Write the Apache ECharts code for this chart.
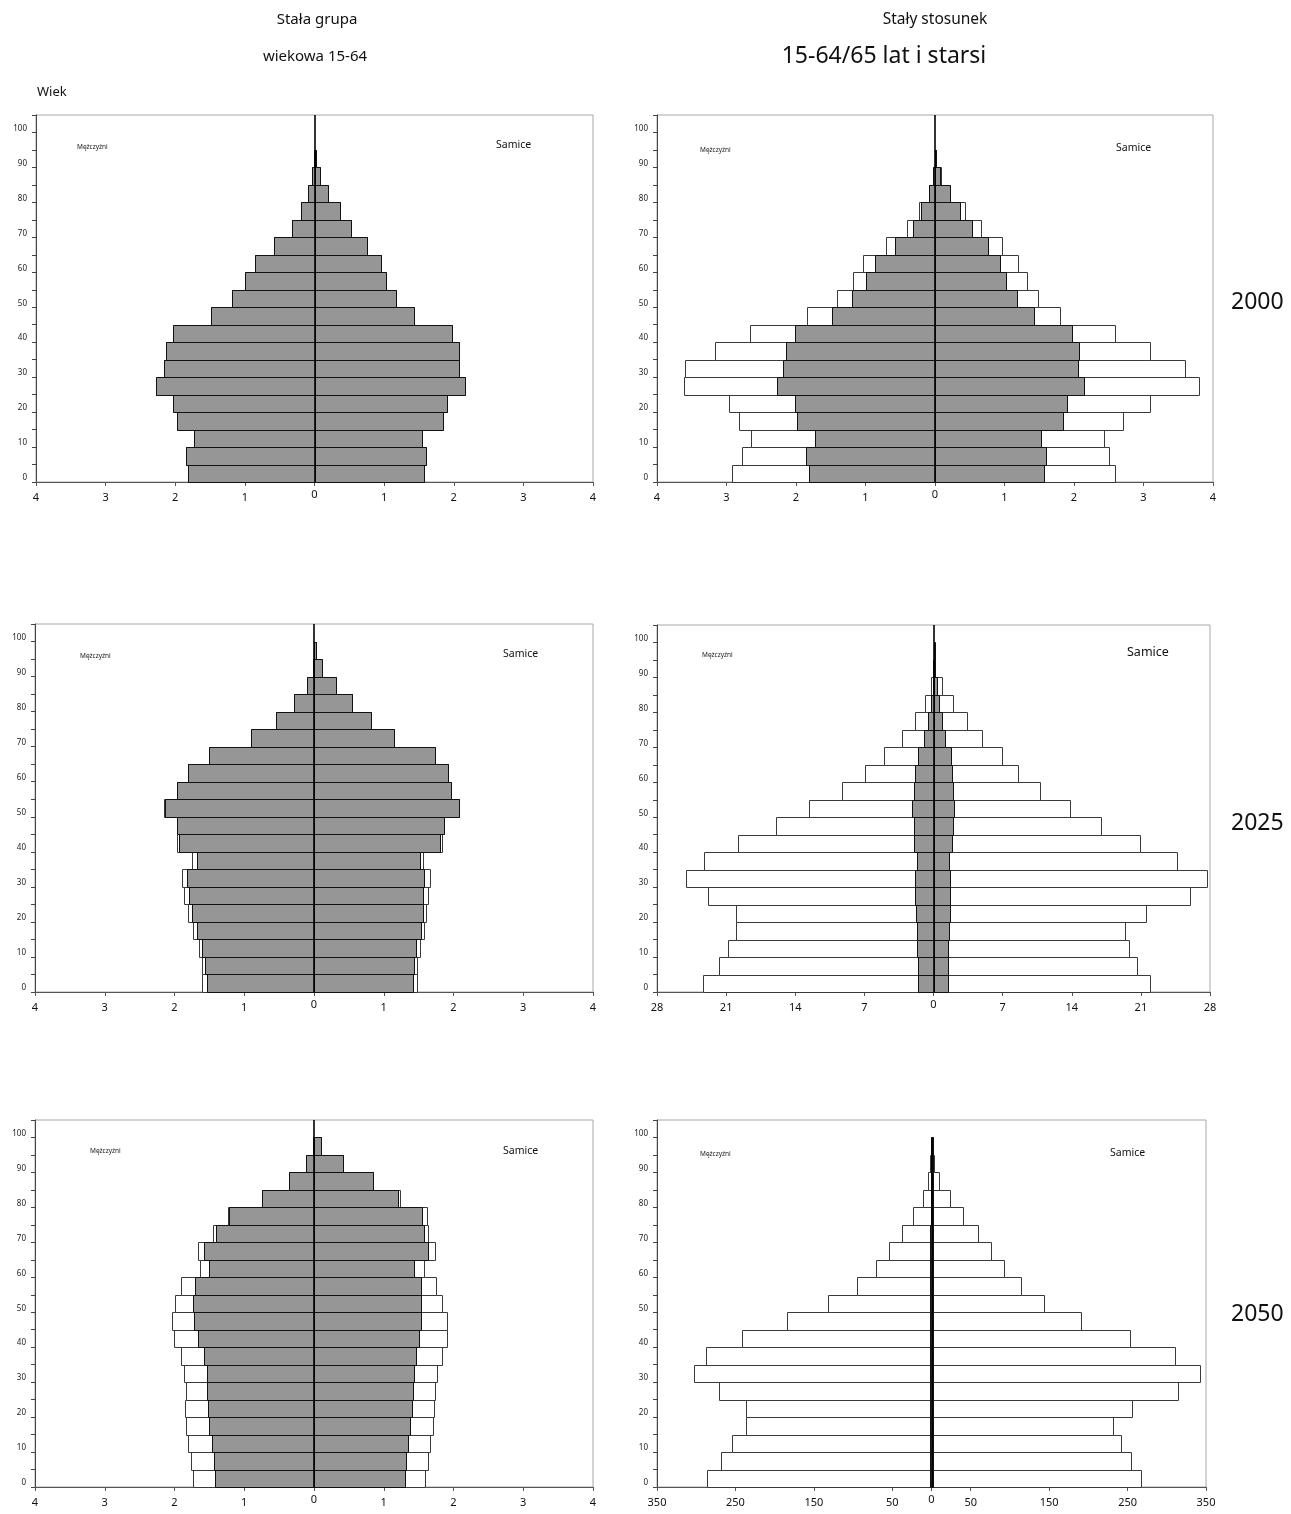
<!DOCTYPE html>
<html>
<head>
<meta charset="utf-8">
<script src="https://cdn.jsdelivr.net/npm/echarts@6/dist/echarts.min.js"></script>
<style>
html,body{margin:0;padding:0;background:#fff;}
#chart{width:1291px;height:1514px;}
</style>
</head>
<body>
<div id="chart"></div>
<script>
// ---------- data ----------
var AGE_STARTS = [0,5,10,15,20,25,30,35,40,45,50,55,60,65,70,75,80,85,90,95];
var BAND = 5;
var Y_LABEL_STEP = 10;

// 2000 – constant age group 15-64
var M_GREY_2000_GROUP  = [1.82,1.85,1.73,1.98,2.03,2.27,2.16,2.14,2.03,1.48,1.19,1.00,0.86,0.58,0.33,0.20,0.09,0.03,0.005,0];
var F_GREY_2000_GROUP  = [1.57,1.60,1.54,1.84,1.90,2.16,2.07,2.07,1.98,1.43,1.17,1.02,0.95,0.76,0.53,0.36,0.20,0.08,0.02,0];
var M_WHITE_2000_GROUP = [1.82,1.85,1.73,1.98,2.03,2.27,2.16,2.14,2.03,1.48,1.19,1.00,0.86,0.58,0.33,0.20,0.09,0.03,0.005,0];
var F_WHITE_2000_GROUP = [1.57,1.60,1.54,1.84,1.90,2.16,2.07,2.07,1.98,1.43,1.17,1.02,0.95,0.76,0.53,0.36,0.20,0.08,0.02,0];

// 2000 – constant ratio 15-64/65+
var M_GREY_2000_RATIO  = [1.82,1.85,1.73,1.98,2.02,2.27,2.18,2.14,2.02,1.48,1.19,1.00,0.86,0.58,0.32,0.20,0.09,0.03,0.005,0];
var F_GREY_2000_RATIO  = [1.57,1.60,1.53,1.84,1.90,2.15,2.06,2.07,1.97,1.42,1.18,1.02,0.94,0.76,0.53,0.36,0.21,0.07,0.02,0];
var M_WHITE_2000_RATIO = [2.92,2.78,2.65,2.82,2.97,3.61,3.60,3.17,2.66,1.84,1.41,1.18,1.03,0.70,0.40,0.23,0.09,0.03,0.005,0];
var F_WHITE_2000_RATIO = [2.59,2.51,2.43,2.70,3.09,3.80,3.60,3.09,2.59,1.80,1.48,1.32,1.19,0.97,0.66,0.43,0.21,0.08,0.02,0];

// 2025 – constant age group
var M_GREY_2025_GROUP  = [1.54,1.56,1.60,1.68,1.75,1.79,1.82,1.68,1.93,1.96,2.13,1.96,1.80,1.51,0.91,0.55,0.28,0.10,0.02,0];
var F_GREY_2025_GROUP  = [1.42,1.43,1.46,1.53,1.56,1.56,1.58,1.52,1.80,1.86,2.08,1.97,1.92,1.74,1.15,0.82,0.54,0.31,0.12,0.03];
var M_WHITE_2025_GROUP = [1.60,1.60,1.65,1.74,1.80,1.87,1.89,1.75,1.96,1.96,2.15,1.96,1.80,1.51,0.91,0.55,0.28,0.10,0.02,0];
var F_WHITE_2025_GROUP = [1.48,1.48,1.52,1.57,1.60,1.64,1.66,1.56,1.83,1.86,2.08,1.97,1.92,1.74,1.15,0.82,0.54,0.31,0.12,0.03];

// 2025 – constant ratio
var M_GREY_2025_RATIO  = [1.56,1.56,1.64,1.72,1.80,1.88,1.88,1.68,1.96,1.96,2.20,1.96,1.84,1.56,0.92,0.56,0.28,0.08,0.02,0];
var F_GREY_2025_RATIO  = [1.44,1.44,1.44,1.52,1.68,1.68,1.68,1.52,1.88,1.96,2.12,1.96,1.92,1.76,1.16,0.84,0.56,0.32,0.12,0.03];
var M_WHITE_2025_RATIO = [23.3,21.7,20.8,20.0,20.0,22.8,25.1,23.2,19.8,16.0,12.6,9.3,6.9,5.0,3.2,1.9,0.84,0.28,0.08,0];
var F_WHITE_2025_RATIO = [21.9,20.6,19.8,19.4,21.5,26.0,27.7,24.7,20.9,17.0,13.8,10.8,8.6,6.9,4.9,3.4,1.96,0.88,0.20,0];

// 2050 – constant age group
var M_GREY_2050_GROUP  = [1.42,1.43,1.46,1.50,1.52,1.53,1.54,1.58,1.67,1.72,1.73,1.70,1.51,1.58,1.41,1.22,0.75,0.36,0.12,0.02];
var F_GREY_2050_GROUP  = [1.30,1.32,1.35,1.38,1.40,1.42,1.43,1.46,1.51,1.54,1.53,1.53,1.43,1.64,1.57,1.55,1.20,0.84,0.42,0.10];
var M_WHITE_2050_GROUP = [1.73,1.76,1.81,1.84,1.85,1.84,1.86,1.91,2.01,2.04,1.99,1.91,1.64,1.66,1.45,1.24,0.75,0.36,0.12,0.02];
var F_WHITE_2050_GROUP = [1.59,1.63,1.66,1.71,1.72,1.74,1.76,1.83,1.90,1.90,1.83,1.75,1.57,1.74,1.64,1.62,1.23,0.85,0.42,0.10];

// 2050 – constant ratio
var M_GREY_2050_RATIO  = [1.42,1.43,1.46,1.50,1.52,1.53,1.54,1.58,1.67,1.72,1.73,1.70,1.51,1.58,1.41,1.22,0.75,0.36,0.12,0.02];
var F_GREY_2050_RATIO  = [1.30,1.32,1.35,1.38,1.40,1.42,1.43,1.46,1.51,1.54,1.53,1.53,1.43,1.64,1.57,1.55,1.20,0.84,0.42,0.10];
var M_WHITE_2050_RATIO = [286,268,255,237,236,271,303,287,241,184,132,95,71,54,37,23,11,4,1.5,0.5];
var F_WHITE_2050_RATIO = [267,255,242,232,256,314,342,311,253,191,144,114,92,76,59,40,23,9,3,1];

// axis ranges / ticks
var X_RANGE_SMALL = 4,   X_STEP_SMALL = 1;
var X_RANGE_2025  = 28,  X_STEP_2025  = 7;
var X_RANGE_2050  = 350;
var X_TICKS_2050  = [-350,-250,-150,-50,0,50,150,250,350];
var Y_MAX = 105;

// texts
var TITLE_LEFT_1  = 'Stała grupa';
var TITLE_LEFT_2  = 'wiekowa 15-64';
var TITLE_RIGHT_1 = 'Stały stosunek';
var TITLE_RIGHT_2 = '15-64/65 lat i starsi';
var Y_NAME = 'Wiek';
var MALE_LABEL = 'Mężczyźni';
var FEMALE_LABEL = 'Samice';
var YEARS = ['2000','2025','2050'];

// ---------- layout ----------
var FONT = '"Noto Sans", "Open Sans", sans-serif';
var panels = [
  {grid:{left:36, top:115, width:557, height:367}, xr:X_RANGE_SMALL, xs:X_STEP_SMALL,
   mg:M_GREY_2000_GROUP, fg:F_GREY_2000_GROUP, mw:M_WHITE_2000_GROUP, fw:F_WHITE_2000_GROUP, zeroTop:Y_MAX},
  {grid:{left:657, top:115, width:556, height:367}, xr:X_RANGE_SMALL, xs:X_STEP_SMALL,
   mg:M_GREY_2000_RATIO, fg:F_GREY_2000_RATIO, mw:M_WHITE_2000_RATIO, fw:F_WHITE_2000_RATIO, zeroTop:Y_MAX},
  {grid:{left:35, top:624, width:558, height:368}, xr:X_RANGE_SMALL, xs:X_STEP_SMALL,
   mg:M_GREY_2025_GROUP, fg:F_GREY_2025_GROUP, mw:M_WHITE_2025_GROUP, fw:F_WHITE_2025_GROUP, zeroTop:Y_MAX},
  {grid:{left:657, top:625, width:553, height:367}, xr:X_RANGE_2025, xs:X_STEP_2025,
   mg:M_GREY_2025_RATIO, fg:F_GREY_2025_RATIO, mw:M_WHITE_2025_RATIO, fw:F_WHITE_2025_RATIO, zeroTop:Y_MAX},
  {grid:{left:35, top:1120, width:558, height:367}, xr:X_RANGE_SMALL, xs:X_STEP_SMALL,
   mg:M_GREY_2050_GROUP, fg:F_GREY_2050_GROUP, mw:M_WHITE_2050_GROUP, fw:F_WHITE_2050_GROUP, zeroTop:Y_MAX},
  {grid:{left:657, top:1120, width:549, height:367}, xr:X_RANGE_2050, custom:X_TICKS_2050,
   mg:M_GREY_2050_RATIO, fg:F_GREY_2050_RATIO, mw:M_WHITE_2050_RATIO, fw:F_WHITE_2050_RATIO, zeroTop:100}
];

function pyramid(male, female) {
  var d = [];
  AGE_STARTS.forEach(function (a, i) {
    d.push([-male[i], a]);
    d.push([female[i], a]);
  });
  return d;
}

function barRenderer(fill, stroke) {
  return function (params, api) {
    var v = api.value(0), a = api.value(1);
    if (Math.abs(v) < 1e-9) return null;
    var p0 = api.coord([0, a]);
    var p1 = api.coord([v, a + BAND]);
    var x0 = Math.round(Math.min(p0[0], p1[0])) + 0.5;
    var x1 = Math.round(Math.max(p0[0], p1[0])) + 0.5;
    var y0 = Math.round(p1[1]) + 0.5;
    var y1 = Math.round(p0[1]) + 0.5;
    return {
      type: 'rect',
      shape: {x: x0, y: y0, width: Math.max(x1 - x0, 1), height: y1 - y0},
      style: {fill: fill, stroke: stroke, lineWidth: 1}
    };
  };
}

var grids = [], xAxes = [], yAxes = [], series = [];
panels.forEach(function (p, i) {
  grids.push({left:p.grid.left, top:p.grid.top, width:p.grid.width, height:p.grid.height,
    show:true, borderColor:'#a8a8a8', borderWidth:1, backgroundColor:'transparent'});
  var xa = {
    type:'value', gridIndex:i, min:-p.xr, max:p.xr,
    axisLine:{show:true, onZero:false, lineStyle:{color:'#555', width:1}},
    axisTick:{show:true, length:4, lineStyle:{color:'#555'}},
    splitLine:{show:false},
    axisLabel:{fontSize:11, color:'#111', fontFamily:FONT, margin:10,
      formatter:function (v) { return v === 0 ? '{zero|0}' : String(Math.abs(v)); },
      rich:{zero:{fontSize:11, fontFamily:FONT, color:'#111', lineHeight:6}}}
  };
  if (p.custom) {
    xa.axisLabel.customValues = p.custom;
    xa.axisTick.customValues = p.custom;
  } else {
    xa.interval = p.xs;
  }
  xAxes.push(xa);
  yAxes.push({
    type:'value', gridIndex:i, min:0, max:Y_MAX, interval:BAND,
    axisLine:{show:true, onZero:false, lineStyle:{color:'#444', width:1}},
    axisTick:{show:true, length:4, lineStyle:{color:'#444'}},
    splitLine:{show:false},
    axisLabel:{fontSize:8, color:'#222', fontFamily:FONT, margin:9, verticalAlign:'bottom',
      formatter:function (v) { return v % Y_LABEL_STEP === 0 ? String(v) : ''; }}
  });
  series.push({
    type:'custom', xAxisIndex:i, yAxisIndex:i, animation:false, silent:true,
    encode:{x:0, y:1},
    renderItem: barRenderer('#ffffff', '#3a3a3a'),
    data: pyramid(p.mw, p.fw), z:2
  });
  series.push({
    type:'custom', xAxisIndex:i, yAxisIndex:i, animation:false, silent:true,
    encode:{x:0, y:1},
    renderItem: barRenderer('#969696', '#111111'),
    data: pyramid(p.mg, p.fg), z:3,
    markLine:{
      silent:true, symbol:['none','none'], animation:false,
      label:{show:false},
      lineStyle:{color:'#000', width:1.6, type:'solid'},
      data:[[{coord:[0,0]},{coord:[0,p.zeroTop]}]]
    }
  });
});

var maleLbl = [[77,147],[700,150],[80,656],[702,655],[90,1151],[700,1154]];
var femLbl  = [[496,145,10.5],[1116,148,10.5],[503,654,10.5],[1127,652,12.5],[503,1151,10.5],[1110,1153,10.5]];
var graphics = [
  {type:'text', x:317, y:20, style:{text:TITLE_LEFT_1, fontSize:15, fontFamily:FONT, fill:'#111', textAlign:'center', textVerticalAlign:'middle'}},
  {type:'text', x:315, y:57, style:{text:TITLE_LEFT_2, fontSize:15, fontFamily:FONT, fill:'#111', textAlign:'center', textVerticalAlign:'middle'}},
  {type:'text', x:935, y:20, style:{text:TITLE_RIGHT_1, fontSize:15.5, fontFamily:FONT, fill:'#111', textAlign:'center', textVerticalAlign:'middle'}},
  {type:'text', x:884, y:56, style:{text:TITLE_RIGHT_2, fontSize:23, fontFamily:FONT, fill:'#111', textAlign:'center', textVerticalAlign:'middle'}},
  {type:'text', x:37, y:92, style:{text:Y_NAME, fontSize:13, fontFamily:FONT, fill:'#111', textAlign:'left', textVerticalAlign:'middle'}},
  {type:'text', x:1231, y:302, style:{text:YEARS[0], fontSize:23, fontFamily:FONT, fill:'#111', textAlign:'left', textVerticalAlign:'middle'}},
  {type:'text', x:1231, y:823, style:{text:YEARS[1], fontSize:23, fontFamily:FONT, fill:'#111', textAlign:'left', textVerticalAlign:'middle'}},
  {type:'text', x:1231, y:1314, style:{text:YEARS[2], fontSize:23, fontFamily:FONT, fill:'#111', textAlign:'left', textVerticalAlign:'middle'}}
];
maleLbl.forEach(function (m) {
  graphics.push({type:'text', x:m[0], y:m[1], z:10, style:{text:MALE_LABEL, fontSize:6.5, fontFamily:FONT, fill:'#222', textAlign:'left', textVerticalAlign:'middle'}});
});
femLbl.forEach(function (f) {
  graphics.push({type:'text', x:f[0], y:f[1], z:10, style:{text:FEMALE_LABEL, fontSize:f[2], fontFamily:FONT, fill:'#111', textAlign:'left', textVerticalAlign:'middle'}});
});

var chart = echarts.init(document.getElementById('chart'), null, {renderer:'canvas'});
chart.setOption({
  animation:false,
  backgroundColor:'#ffffff',
  grid:grids, xAxis:xAxes, yAxis:yAxes, series:series,
  graphic:graphics
});
</script>
</body>
</html>
